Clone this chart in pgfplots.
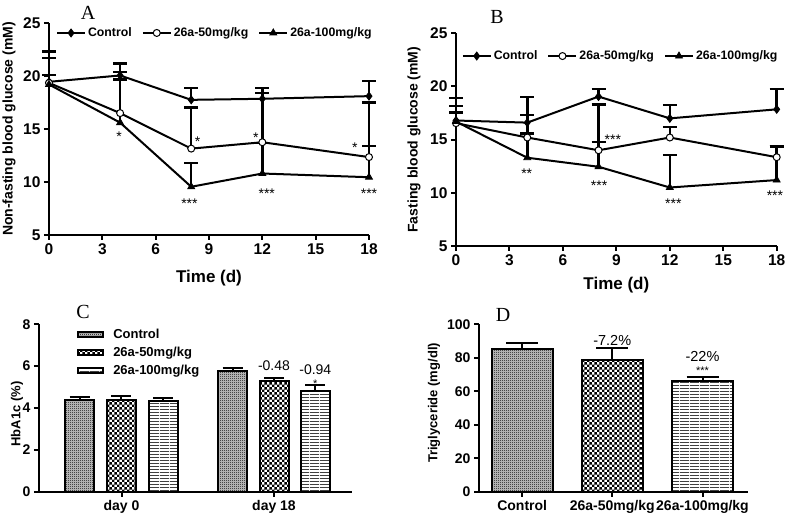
\documentclass[border=0pt]{standalone}
\usepackage{pgfplots}
\pgfplotsset{compat=1.18}
\usepackage{fontspec}
\setmainfont{Liberation Sans}
\newfontfamily\seriffont{Liberation Serif}
\usetikzlibrary{patterns}
\pgfdeclarepatternformonly{finegrid}{\pgfqpoint{0pt}{0pt}}{\pgfqpoint{2pt}{2pt}}{\pgfqpoint{2pt}{2pt}}{%
  \pgfpathrectangle{\pgfqpoint{0pt}{0pt}}{\pgfqpoint{1pt}{1pt}}%
  \pgfpathrectangle{\pgfqpoint{1pt}{1pt}}{\pgfqpoint{1pt}{1pt}}%
  \pgfusepath{fill}}
\pgfdeclarepatternformonly{bigcheck}{\pgfqpoint{0pt}{0pt}}{\pgfqpoint{5.4pt}{5.4pt}}{\pgfqpoint{5.4pt}{5.4pt}}{%
  \pgfpathrectangle{\pgfqpoint{0pt}{0pt}}{\pgfqpoint{2.7pt}{2.7pt}}%
  \pgfpathrectangle{\pgfqpoint{2.7pt}{2.7pt}}{\pgfqpoint{2.7pt}{2.7pt}}%
  \pgfusepath{fill}}
\pgfdeclarepatternformonly{hlines}{\pgfqpoint{0pt}{0pt}}{\pgfqpoint{10pt}{3.3pt}}{\pgfqpoint{10pt}{3.3pt}}{%
  \pgfpathrectangle{\pgfqpoint{0pt}{0pt}}{\pgfqpoint{10pt}{1.1pt}}%
  \pgfusepath{fill}}

\pgfplotsset{
  prism/.style={
    scale only axis, anchor=south west,
    axis lines*=left,
    axis line style={line width=2pt, -},
    every tick/.style={line width=2pt, black},
    tick align=outside,
    major tick length=5pt,
    clip=false,
  },
  intticks/.style={
    xticklabel={\pgfmathtruncatemacro\tk{\tick}\tk},
    yticklabel={\pgfmathtruncatemacro\tk{\tick}\tk},
  },
  lineerr/.style={
    error bars/y dir=plus, error bars/y explicit,
    error bars/error bar style={line width=2.5pt},
    error bars/error mark options={rotate=90, mark size=7pt, line width=2.5pt},
  },
  barerr/.style={
    error bars/y dir=plus, error bars/y explicit,
    error bars/error bar style={line width=2pt},
    error bars/error mark options={rotate=90, mark size=#1, line width=2pt},
  },
  sctrl/.style={black, line width=2pt, mark=diamond*, mark size=4pt, mark options={solid, line width=0.8pt}},
  sfifty/.style={black, line width=2pt, mark=*, mark size=3.5pt, mark options={solid, fill=white, line width=1pt}},
  shund/.style={black, line width=2pt, mark=triangle*, mark size=4pt, mark options={solid, line width=0.8pt}},
  linelegend/.style={
    legend columns=-1,
    legend image code/.code={\draw[mark repeat=2,mark phase=2,##1] plot coordinates {(0pt,0pt) (14pt,0pt) (28pt,0pt)};},
    legend style={draw=none, fill=none, font=\fontsize{12.3}{12}\selectfont\bfseries,
      /tikz/every even column/.append style={column sep=8pt}},
  },
  barlegend/.style={
    legend cell align=left,
    legend image code/.code={\draw[##1, line width=2pt] (0pt,-2.5pt) rectangle (25pt,2.5pt);},
    legend style={draw=none, fill=none, font=\fontsize{13}{13}\selectfont\bfseries, row sep=3pt,
      /tikz/every odd column/.append style={column sep=7pt}},
  },
  ctrlbar/.style={ybar, bar shift=0pt, draw=black, line width=2pt, fill=black!20, postaction={pattern=finegrid, pattern color=black}},
  fiftybar/.style={ybar, bar shift=0pt, draw=black, line width=2pt, fill=white, postaction={pattern=bigcheck, pattern color=black}},
  hundbar/.style={ybar, bar shift=0pt, draw=black, line width=2pt, fill=white, postaction={pattern=hlines, pattern color=black!75}},
}

\begin{document}
\begin{tikzpicture}
\useasboundingbox (0,0) rectangle (787pt,513pt);

% ---------------- Panel A ----------------
\begin{axis}[prism, intticks, at={(49pt,278pt)}, width=320pt, height=212pt,
  xmin=0, xmax=18, ymin=5, ymax=25,
  xtick={0,3,...,18}, ytick={5,10,...,25},
  tick label style={font=\fontsize{15.5}{16}\selectfont\bfseries},
  xlabel={Time (d)}, ylabel={Non-fasting blood glucose (mM)},
  xlabel style={at={(axis description cs:0.5,-0.205)}, anchor=center, font=\fontsize{17}{17}\selectfont\bfseries},
  ylabel style={at={(axis description cs:-0.125,0.5)}, anchor=center, font=\fontsize{14}{14}\selectfont\bfseries},
  linelegend,
  legend style={at={(axis description cs:0.012,0.953)}, anchor=west},
  lineerr]
\addplot[sctrl] coordinates {(0,19.45) +- (0,2.85) (4,20.05) +- (0,1.15) (8,17.75) +- (0,1.1) (12,17.85) +- (0,1.0) (18,18.1) +- (0,1.45)};
\addplot[sfifty] coordinates {(0,19.35) +- (0,2.35) (4,16.5) +- (0,3.15) (8,13.15) +- (0,3.9) (12,13.75) +- (0,4.65) (18,12.35) +- (0,5.15)};
\addplot[shund] coordinates {(0,19.2) +- (0,0.9) (4,15.6) +- (0,4.8) (8,9.55) +- (0,2.25) (12,10.8) +- (0,2.9) (18,10.45) +- (0,2.95)};
\legend{Control, 26a-50mg/kg, 26a-100mg/kg}
\node[font=\fontsize{14}{14}\selectfont] at (axis cs:3.95,14.3) {*};
\node[font=\fontsize{14}{14}\selectfont] at (axis cs:8.36,13.8) {*};
\node[font=\fontsize{14}{14}\selectfont] at (axis cs:11.63,14.15) {*};
\node[font=\fontsize{14}{14}\selectfont] at (axis cs:17.2,13.2) {*};
\node[font=\fontsize{14}{14}\selectfont] at (axis cs:7.9,8.0) {***};
\node[font=\fontsize{14}{14}\selectfont] at (axis cs:12.25,8.9) {***};
\node[font=\fontsize{14}{14}\selectfont] at (axis cs:18,8.9) {***};
\end{axis}
\node[font=\seriffont\fontsize{20}{20}\selectfont] at (88pt,500pt) {A};

% ---------------- Panel B ----------------
\begin{axis}[prism, intticks, at={(456pt,267pt)}, width=320.7pt, height=212.7pt,
  xmin=0, xmax=18, ymin=5, ymax=25,
  xtick={0,3,...,18}, ytick={5,10,...,25},
  tick label style={font=\fontsize{15.5}{16}\selectfont\bfseries},
  xlabel={Time (d)}, ylabel={Fasting blood glucose (mM)},
  xlabel style={at={(axis description cs:0.5,-0.185)}, anchor=center, font=\fontsize{17}{17}\selectfont\bfseries},
  ylabel style={at={(axis description cs:-0.131,0.5)}, anchor=center, font=\fontsize{14}{14}\selectfont\bfseries},
  linelegend,
  legend style={at={(axis description cs:0.008,0.893)}, anchor=west},
  lineerr]
\addplot[sctrl] coordinates {(0,16.8) +- (0,2.1) (4,16.6) +- (0,2.4) (8,19.05) +- (0,0.7) (12,17.0) +- (0,1.25) (18,17.85) +- (0,1.9)};
\addplot[sfifty] coordinates {(0,16.55) +- (0,1.6) (4,15.2) +- (0,2.1) (8,14.0) +- (0,4.3) (12,15.2) +- (0,1.0) (18,13.35) +- (0,1.0)};
\addplot[shund] coordinates {(0,16.7) +- (0,0.85) (4,13.3) +- (0,2.3) (8,12.45) +- (0,2.35) (12,10.5) +- (0,3.05) (18,11.2) +- (0,3.2)};
\legend{Control, 26a-50mg/kg, 26a-100mg/kg}
\node[font=\fontsize{14}{14}\selectfont] at (axis cs:3.97,11.8) {**};
\node[font=\fontsize{14}{14}\selectfont] at (axis cs:8.8,15.0) {***};
\node[font=\fontsize{14}{14}\selectfont] at (axis cs:8.03,10.7) {***};
\node[font=\fontsize{14}{14}\selectfont] at (axis cs:12.2,8.95) {***};
\node[font=\fontsize{14}{14}\selectfont] at (axis cs:17.9,9.7) {***};
\end{axis}
\node[font=\seriffont\fontsize{20}{20}\selectfont] at (497pt,496pt) {B};

% ---------------- Panel C ----------------
\begin{axis}[prism, intticks, at={(39pt,21.3pt)}, width=313pt, height=167.4pt,
  xmin=39, xmax=352, ymin=0, ymax=8,
  xtick={121.5,274}, xticklabels={day 0, day 18},
  ytick={0,2,...,8},
  tick label style={font=\fontsize{14}{14}\selectfont\bfseries},
  ylabel={HbA1c (\%)},
  ylabel style={at={(axis description cs:-0.070,0.464)}, anchor=center, font=\fontsize{13}{13}\selectfont\bfseries},
  barlegend,
  legend style={at={(axis description cs:0.112,0.995)}, anchor=north west},
  barerr=10pt]
\addplot[ctrlbar, bar width=29]
  coordinates {(79.7,4.40) +- (0,0.13) (232.5,5.77) +- (0,0.16)};
\addplot[fiftybar, bar width=29]
  coordinates {(121.3,4.37) +- (0,0.22) (274,5.29) +- (0,0.16)};
\addplot[hundbar, bar width=29]
  coordinates {(163,4.34) +- (0,0.14) (315.3,4.83) +- (0,0.27)};
\legend{Control, 26a-50mg/kg, 26a-100mg/kg}
\node[font=\fontsize{14}{14}\selectfont] at (axis cs:274,6.02) {-0.48};
\node[font=\fontsize{14}{14}\selectfont] at (axis cs:315.3,5.82) {-0.94};
\node[font=\fontsize{11}{11}\selectfont] at (axis cs:315.3,5.15) {*};
\end{axis}
\node[font=\seriffont\fontsize{20}{20}\selectfont] at (83pt,201pt) {C};

% ---------------- Panel D ----------------
\begin{axis}[prism, intticks, at={(479pt,21.3pt)}, width=269pt, height=167.4pt,
  xmin=479, xmax=748, ymin=0, ymax=100,
  xtick={522.2,612.2,702.5}, xticklabels={Control, 26a-50mg/kg, 26a-100mg/kg},
  ytick={0,20,...,100},
  tick label style={font=\fontsize{14}{14}\selectfont\bfseries},
  ylabel={Triglyceride (mg/dl)},
  ylabel style={at={(axis description cs:-0.167,0.53)}, anchor=center, font=\fontsize{13}{13}\selectfont\bfseries},
  barerr=16pt]
\addplot[ctrlbar, bar width=61]
  coordinates {(522.2,85.1) +- (0,3.5)};
\addplot[fiftybar, bar width=61]
  coordinates {(612.2,78.7) +- (0,6.9)};
\addplot[hundbar, bar width=61]
  coordinates {(702.5,66.3) +- (0,2.4)};
\node[font=\fontsize{14.5}{14.5}\selectfont] at (axis cs:612.2,90.6) {-7.2\%};
\node[font=\fontsize{14.5}{14.5}\selectfont] at (axis cs:702.5,80.6) {-22\%};
\node[font=\fontsize{11}{11}\selectfont] at (axis cs:702.5,72.5) {***};
\end{axis}
\node[font=\seriffont\fontsize{20}{20}\selectfont] at (503pt,198pt) {D};
\end{tikzpicture}
\end{document}
